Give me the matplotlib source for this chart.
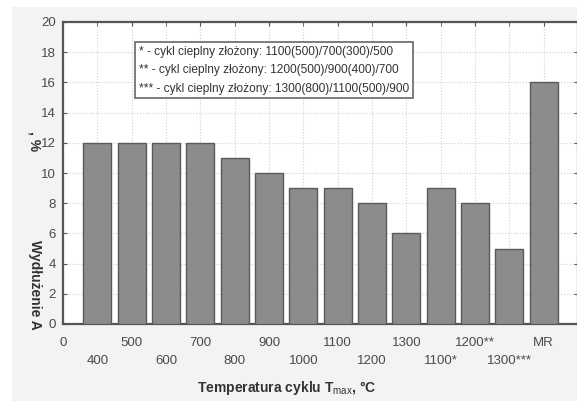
import matplotlib
matplotlib.use("Agg")
from matplotlib import pyplot as plt
from matplotlib.patches import Rectangle

plt.rcParams['font.family'] = ['Liberation Sans', 'DejaVu Sans']
plt.rcParams['mathtext.fontset'] = 'custom'
plt.rcParams['mathtext.rm'] = 'Liberation Sans'

# data
labels = ["0", "400", "500", "600", "700", "800", "900", "1000", "1100",
          "1200", "1300", "1100*", "1200**", "1300***", "MR"]
values = [12, 12, 12, 12, 11, 10, 9, 9, 8, 6, 9, 8, 5, 16]
legend_lines = [
    "* - cykl cieplny złożony: 1100(500)/700(300)/500",
    "** - cykl cieplny złożony: 1200(500)/900(400)/700",
    "*** - cykl cieplny złożony: 1300(800)/1100(500)/900",
]

W, H = 577, 401
fig = plt.figure(figsize=(W / 100, H / 100), dpi=100, facecolor="white")
# light gray panel behind the chart
fig.add_artist(Rectangle((12 / W, 0), 1, 1 - 7 / H, transform=fig.transFigure,
                         facecolor="#f3f3f3", edgecolor="none", zorder=-5))

ax = fig.add_axes([63 / W, 1 - 324 / H, 515 / W, 302 / H])
ax.set_zorder(2)
ax.set_facecolor("white")

pos = list(range(1, len(values) + 1))
ax.bar(pos, values, width=0.82, color="#8c8c8c", edgecolor="#5a5a5a", linewidth=1.0, zorder=3)

ax.set_xlim(0, 15)
ax.set_ylim(0, 20)
ax.set_yticks(range(0, 21, 2))
# two rows of x labels: even positions on top row, odd positions below
ax.set_xticks(range(0, len(labels), 2))
ax.set_xticklabels(labels[0::2])
ax.set_xticks(range(1, len(labels), 2), minor=True)
ax.set_xticklabels(labels[1::2], minor=True)
ax.tick_params(axis="both", which="both", direction="in", length=3, color="#555555",
               top=True, right=True, labelsize=9.5, labelcolor="#4a4a4a")
ax.tick_params(axis="x", which="major", pad=9)
ax.tick_params(axis="x", which="minor", pad=22)
ax.tick_params(axis="y", pad=5)

ax.grid(True, which="both", axis="x", linestyle=":", color="#d0d0d0", linewidth=0.8, zorder=0)
ax.grid(True, axis="y", linestyle=":", color="#d0d0d0", linewidth=0.8, zorder=0)
for s in ax.spines.values():
    s.set_color("#555555")
    s.set_linewidth(1.6)

# note box
ax.text((139 - 63) / 515, 1 - (46 - 22) / 302, "\n".join(legend_lines),
        transform=ax.transAxes, fontsize=8.6, color="#333333", va="top", ha="left",
        linespacing=1.7, zorder=5,
        bbox=dict(boxstyle="square,pad=0.3", facecolor="white", edgecolor="#666666", linewidth=1.2))

fig.text(287 / W, 1 - 388 / H, r"Temperatura cyklu T$_{\mathrm{max}}$, °C", ha="center", va="center",
         fontsize=10, fontweight="bold", color="#333333")
fig.text(35 / W, 1 - 285 / H, "Wydłużenie A", rotation=-90, ha="center", va="center",
         fontsize=10, fontweight="bold", color="#333333")
fig.text(35 / W, 1 - 141 / H, ", %", rotation=-90, ha="center", va="center",
         fontsize=10, fontweight="bold", color="#333333")

fig.savefig("out.png", dpi=100, facecolor=fig.get_facecolor())
